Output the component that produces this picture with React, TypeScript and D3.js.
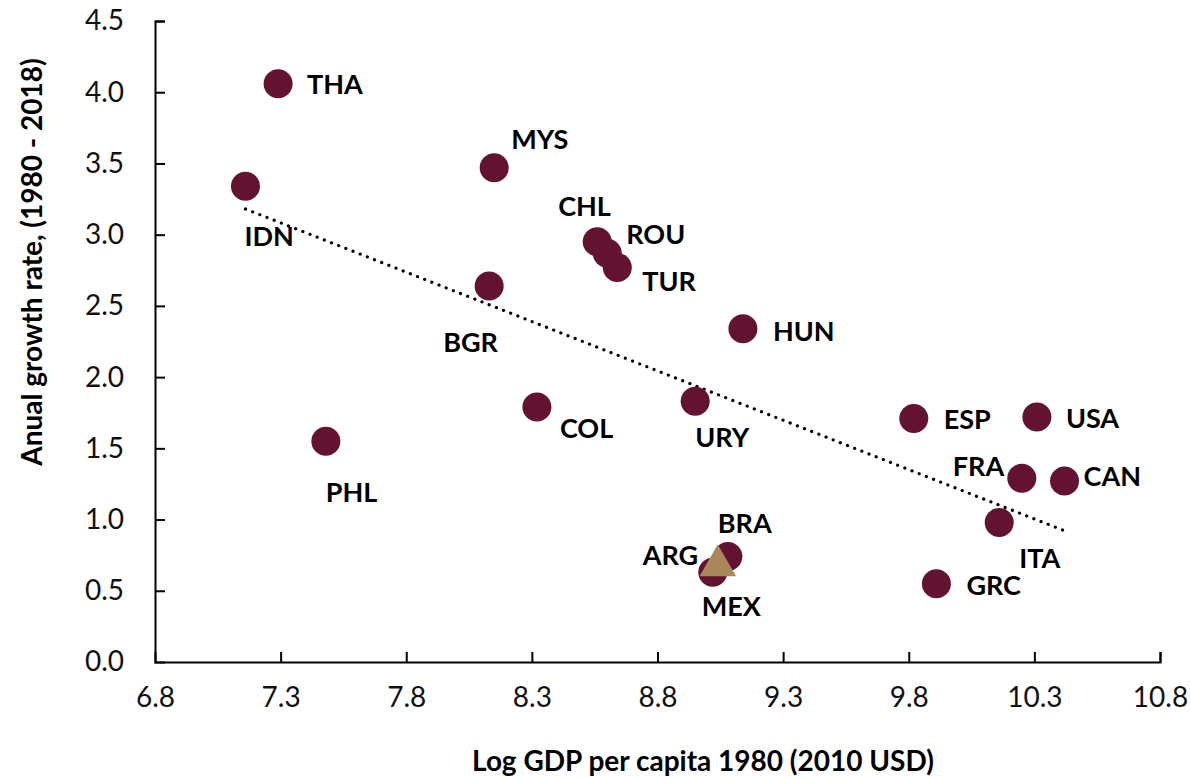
import { useEffect, useRef } from 'react';
import * as d3 from 'd3';

const countries = ['THA', 'IDN', 'MYS', 'CHL', 'ROU', 'TUR', 'BGR', 'HUN', 'COL', 'URY', 'PHL', 'ESP', 'USA', 'FRA', 'CAN', 'ITA', 'GRC', 'BRA', 'ARG'];
const logGdp = [7.29, 7.16, 8.15, 8.56, 8.6, 8.64, 8.13, 9.14, 8.32, 8.95, 7.48, 9.82, 10.31, 10.25, 10.42, 10.16, 9.91, 9.08, 9.02];
const growth = [4.06, 3.34, 3.47, 2.95, 2.87, 2.77, 2.64, 2.34, 1.79, 1.83, 1.55, 1.71, 1.72, 1.29, 1.27, 0.98, 0.55, 0.74, 0.63];

const highlight = ['MEX'];
const highlightGdp = [9.04];
const highlightGrowth = [0.69];

const xTicks = [6.8, 7.3, 7.8, 8.3, 8.8, 9.3, 9.8, 10.3, 10.8];
const yTicks = [0, 0.5, 1, 1.5, 2, 2.5, 3, 3.5, 4, 4.5];

// label offsets (px) from the marker centre: [dx, dy]
const labelOffsets = {
  THA: [29, 10], IDN: [-1, 60], MYS: [17, -19], CHL: [-39, -26],
  ROU: [19, -9], TUR: [25, 24], BGR: [-46, 66], HUN: [30, 12],
  COL: [23, 31], URY: [0, 46], PHL: [0, 61], ESP: [30, 11],
  USA: [29, 11], FRA: [-69, -2], CAN: [19, 5], ITA: [20, 46],
  GRC: [30, 11], BRA: [-10, -24], ARG: [-70, -7], MEX: [-16, 52],
};

export default function App() {
  const ref = useRef<SVGSVGElement>(null);
  const width = 1191;
  const height = 778;

  useEffect(() => {
    const svg = d3.select(ref.current);
    svg.selectAll('*').remove();
    const font = 'Lato, "Open Sans", sans-serif';

    const x = d3.scaleLinear().domain([6.8, 10.8]).range([155, 1160]);
    const y = d3.scaleLinear().domain([0, 4.5]).range([662, 21]);

    // axes
    const xAxis = svg.append('g').attr('transform', `translate(0,${y(0)})`)
      .call(d3.axisBottom(x).tickValues(xTicks).tickSize(-10).tickPadding(25).tickFormat(d3.format('.1f')));
    const yAxis = svg.append('g').attr('transform', `translate(${x(6.8)},0)`)
      .call(d3.axisLeft(y).tickValues(yTicks).tickSize(-10).tickPadding(31).tickFormat(d3.format('.1f')));
    [xAxis, yAxis].forEach((g) => {
      g.select('.domain').attr('stroke', '#000').attr('stroke-width', 2);
      g.selectAll('.tick line').attr('stroke', '#000').attr('stroke-width', 2);
      g.selectAll('.tick text').attr('font-family', font).attr('font-size', 28).attr('fill', '#111');
    });
    xAxis.selectAll('.tick').filter((d) => d === 6.8).select('line').remove();
    yAxis.selectAll('.tick').filter((d) => d === 0).select('line').remove();

    // trendline (linear regression over all points)
    const allX = logGdp.concat(highlightGdp);
    const allY = growth.concat(highlightGrowth);
    const mx = d3.mean(allX);
    const my = d3.mean(allY);
    const slope = d3.sum(allX, (v, i) => (v - mx) * (allY[i] - my)) / d3.sum(allX, (v) => (v - mx) ** 2);
    const x0 = d3.min(logGdp);
    const x1 = d3.max(logGdp);
    svg.append('line')
      .attr('x1', x(x0)).attr('y1', y(my + slope * (x0 - mx)))
      .attr('x2', x(x1)).attr('y2', y(my + slope * (x1 - mx)))
      .attr('stroke', '#000').attr('stroke-width', 3.2)
      .attr('stroke-linecap', 'round').attr('stroke-dasharray', '0.1 7.6');

    // points
    svg.append('g').selectAll('circle').data(countries).join('circle')
      .attr('cx', (d, i) => x(logGdp[i])).attr('cy', (d, i) => y(growth[i]))
      .attr('r', 14.5).attr('fill', '#631232');

    const tri = d3.symbol().type(d3.symbolTriangle).size(580);
    svg.append('g').selectAll('path').data(highlight).join('path')
      .attr('d', tri)
      .attr('transform', (d, i) => `translate(${x(highlightGdp[i])},${y(highlightGrowth[i]) + 2})`)
      .attr('fill', '#A8885A');

    // labels
    const labels = countries.map((c, i) => ({ c, px: x(logGdp[i]), py: y(growth[i]) }))
      .concat(highlight.map((c, i) => ({ c, px: x(highlightGdp[i]), py: y(highlightGrowth[i]) })));
    svg.append('g').selectAll('text').data(labels).join('text')
      .attr('x', (d) => d.px + labelOffsets[d.c][0])
      .attr('y', (d) => d.py + labelOffsets[d.c][1])
      .attr('font-family', font).attr('font-weight', 700).attr('font-size', 27).attr('fill', '#000')
      .text((d) => d.c);

    // axis titles
    svg.append('text')
      .attr('x', 703).attr('y', 771).attr('text-anchor', 'middle')
      .attr('font-family', font).attr('font-weight', 700).attr('font-size', 28)
      .text('Log GDP per capita 1980 (2010 USD)');
    svg.append('text')
      .attr('transform', 'translate(42,262) rotate(-90)').attr('text-anchor', 'middle')
      .attr('font-family', font).attr('font-weight', 700).attr('font-size', 28)
      .text('Anual growth rate, (1980 - 2018)');
  }, []);

  return (
    <svg ref={ref} width={width} height={height}
      style={{ position: 'absolute', left: 0, top: 0, background: '#fff' }} />
  );
}
